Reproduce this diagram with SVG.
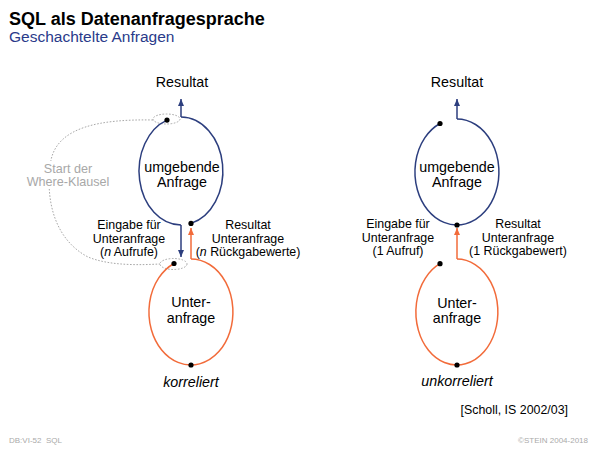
<svg xmlns="http://www.w3.org/2000/svg" width="600" height="450" viewBox="0 0 600 450">
<style>
text{font-family:"Liberation Sans",Arial,sans-serif}
.t{font-size:14.3px;text-anchor:middle;fill:#000}
.l{font-size:12.4px;text-anchor:middle;fill:#000}
.g{font-size:12.6px;text-anchor:middle;fill:#a8a8a8}
.it{font-style:italic}
.blue{fill:none;stroke:#2c3e7e;stroke-width:1.5}
.orange{fill:none;stroke:#f26b3a;stroke-width:1.5}
.dot{fill:#000}
.dash{fill:none;stroke:#a8a8a8;stroke-width:1;stroke-dasharray:1.6 1.6}
.foot{font-size:8px;fill:#aaa}
</style>
<defs>
<marker id="ab" markerUnits="userSpaceOnUse" markerWidth="8" markerHeight="8" refX="7" refY="3" orient="auto">
<path d="M0,0 L7,3 L0,6 Z" fill="#2c3e7e"/>
</marker>
<marker id="ao" markerUnits="userSpaceOnUse" markerWidth="8" markerHeight="8" refX="7" refY="3" orient="auto">
<path d="M0,0 L7,3 L0,6 Z" fill="#f26b3a"/>
</marker>
</defs>

<g id="title">
<text x="9" y="25" style="font-size:18px;font-weight:bold">SQL als Datenanfragesprache</text>
<text x="9" y="42" style="font-size:15.5px;fill:#2a3a8a">Geschachtelte Anfragen</text>
</g>

<g id="connectors">
<path class="dash" d="M153,120 C100,119 58,127 51,160 C45,195 52,238 88,257 C110,266 140,265 160,264"/>
<ellipse class="dash" cx="166.5" cy="119" rx="13.5" ry="5"/>
<ellipse class="dash" cx="173.5" cy="264" rx="13.5" ry="5.5"/>
<path class="blue" d="M181,117 L181,99" marker-end="url(#ab)"/>
<path class="blue" d="M181,225 L181,257" marker-end="url(#ab)"/>
<path class="orange" d="M191,259 L191,228" marker-end="url(#ao)"/>
<path class="blue" d="M457,119 L457,99" marker-end="url(#ab)"/>
<path class="orange" d="M457,259 L457,228" marker-end="url(#ao)"/>
</g>

<g id="umgebende-korreliert">
<path class="blue" d="M167,120.1 A42,54 0 0 0 181,225"/>
<path class="blue" d="M181,117 A42,54 0 0 1 191,223.4"/>
<circle class="dot" cx="167" cy="120.1" r="2.6"/>
<circle class="dot" cx="191" cy="223.4" r="2.6"/>
<text class="t" x="182" y="172">umgebende</text>
<text class="t" x="182" y="187">Anfrage</text>
</g>

<g id="unteranfrage-korreliert">
<path class="orange" d="M174,263.5 A42,53 0 1 0 191,259"/>
<circle class="dot" cx="174" cy="263.5" r="2.6"/>
<circle class="dot" cx="191" cy="365" r="2.6"/>
<text class="t" x="191" y="307">Unter-</text>
<text class="t" x="191" y="323">anfrage</text>
</g>

<g id="umgebende-unkorreliert">
<path class="blue" d="M440,123.5 A42,53 0 1 0 457,119"/>
<circle class="dot" cx="440" cy="123.5" r="2.6"/>
<circle class="dot" cx="457" cy="225" r="2.6"/>
<text class="t" x="457" y="172">umgebende</text>
<text class="t" x="457" y="187">Anfrage</text>
</g>

<g id="unteranfrage-unkorreliert">
<path class="orange" d="M440,263.7 A41,53 0 1 0 457,259"/>
<circle class="dot" cx="440" cy="263.7" r="2.6"/>
<circle class="dot" cx="457" cy="365" r="2.6"/>
<text class="t" x="457" y="308">Unter-</text>
<text class="t" x="457" y="323">anfrage</text>
</g>

<g id="labels">
<text class="t" x="182" y="87">Resultat</text>
<text class="t" x="457" y="87">Resultat</text>
<rect x="25" y="161" width="87" height="28" fill="#fff"/>
<text class="g" x="68" y="173">Start der</text>
<text class="g" x="68" y="186">Where-Klausel</text>
<text class="l" x="129" y="229">Eingabe für</text>
<text class="l" x="129" y="243">Unteranfrage</text>
<text class="l" x="129" y="256">(<tspan class="it">n</tspan> Aufrufe)</text>
<text class="l" x="248" y="229">Resultat</text>
<text class="l" x="248" y="243">Unteranfrage</text>
<text class="l" x="248" y="256">(<tspan class="it">n</tspan> Rückgabewerte)</text>
<text class="l" x="398" y="228">Eingabe für</text>
<text class="l" x="398" y="242">Unteranfrage</text>
<text class="l" x="398" y="255">(1 Aufruf)</text>
<text class="l" x="518" y="228">Resultat</text>
<text class="l" x="518" y="242">Unteranfrage</text>
<text class="l" x="518" y="255">(1 Rückgabewert)</text>
<text class="t it" x="191" y="387">korreliert</text>
<text class="t it" x="457" y="386">unkorreliert</text>
<text class="l" x="568" y="414" style="text-anchor:end">[Scholl, IS 2002/03]</text>
</g>

<g id="footer">
<text class="foot" x="9" y="443">DB:VI-52</text>
<text class="foot" x="46" y="443">SQL</text>
<text class="foot" x="588" y="443" style="text-anchor:end">©STEIN 2004-2018</text>
</g>
</svg>
